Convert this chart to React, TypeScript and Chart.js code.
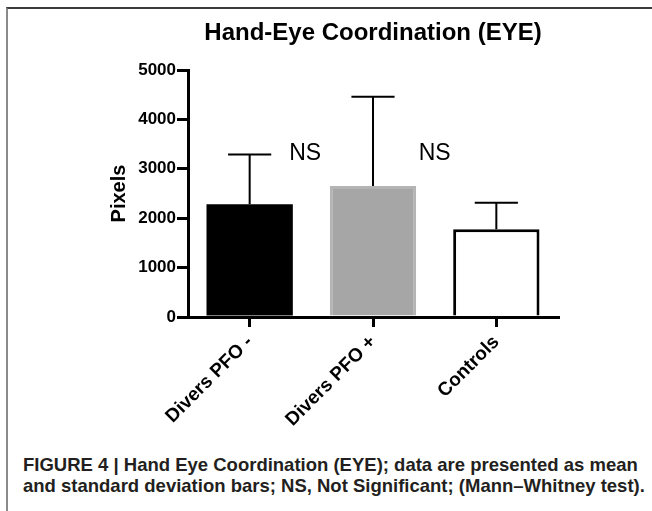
import React, { useEffect, useRef } from "react";
import { Chart, registerables } from "chart.js";
Chart.register(...registerables);

const categories = ["Divers PFO -", "Divers PFO +", "Controls"];
const means = [2280, 2650, 1775];
const sds = [1010, 1810, 540];
const barColors = ["#000000", "#a6a6a6", "#ffffff"];
const borderColors = ["#000000", "#b4b4b4", "#000000"];
const borderWidths = [0, 3, 3];
const yTicks = [0, 1000, 2000, 3000, 4000, 5000];
const nsLabels = ["NS", "NS"];
const nsX = [0.45, 1.5];
const nsY = [3300, 3300];
const titleText = "Hand-Eye Coordination (EYE)";
const yTitle = "Pixels";
const captionLines = [
  "FIGURE 4 | Hand Eye Coordination (EYE); data are presented as mean",
  "and standard deviation bars; NS, Not Significant; (Mann\u2013Whitney test).",
];

const FAMILY = '"Liberation Sans", Arial, Helvetica, sans-serif';

const errorBarPlugin = {
  id: "errorBars",
  afterDatasetsDraw(chart: any) {
    const meta = chart.getDatasetMeta(0);
    const ys = chart.scales.y;
    const xs = chart.scales.x;
    const ctx = chart.ctx;
    ctx.save();
    ctx.strokeStyle = "#000";
    ctx.lineWidth = 2;
    meta.data.forEach((bar: any, i: number) => {
      const x = bar.x;
      const w = bar.width;
      const yTop = ys.getPixelForValue(means[i] + sds[i]);
      const yBase = ys.getPixelForValue(means[i]);
      ctx.beginPath();
      ctx.moveTo(x, yBase);
      ctx.lineTo(x, yTop);
      ctx.moveTo(x - w / 4, yTop);
      ctx.lineTo(x + w / 4, yTop);
      ctx.stroke();
    });
    ctx.fillStyle = "#000";
    ctx.font = "23px " + FAMILY;
    ctx.textAlign = "center";
    ctx.textBaseline = "middle";
    nsLabels.forEach((t, i) => {
      ctx.fillText(t, xs.getPixelForValue(nsX[i]), ys.getPixelForValue(nsY[i]));
    });
    ctx.restore();
  },
};

export default function App() {
  const ref = useRef<HTMLCanvasElement>(null);
  useEffect(() => {
    const chart = new Chart(ref.current!, {
      type: "bar",
      data: {
        labels: categories,
        datasets: [
          {
            data: means,
            backgroundColor: barColors,
            borderColor: borderColors,
            borderWidth: borderWidths,
            barPercentage: 0.7,
            categoryPercentage: 1.0,
          },
        ],
      },
      options: {
        responsive: false,
        animation: false,
        layout: { padding: { left: 90, right: 94, top: 0, bottom: 0 } },
        plugins: {
          legend: { display: false },
          tooltip: { enabled: false },
          title: {
            display: true,
            text: titleText,
            fullSize: false,
            color: "#000",
            font: { family: FAMILY, size: 24, weight: "bold" },
            padding: { top: 10.6, bottom: 22.6 },
          },
        },
        scales: {
          x: {
            type: "category",
            offset: true,
            afterFit: (s: any) => {
              s.height = 131;
            },
            grid: {
              display: true,
              offset: false,
              drawOnChartArea: false,
              drawTicks: true,
              tickLength: 10,
              lineWidth: 3,
              color: "#000",
            },
            border: { display: true, color: "#000", width: 3 },
            ticks: {
              color: "#000",
              font: { family: FAMILY, size: 19, weight: "bold" },
              maxRotation: 45,
              minRotation: 45,
              padding: 4,
              autoSkip: false,
            },
          },
          y: {
            min: 0,
            max: 5000,
            afterFit: (s: any) => {
              s.width = 90;
            },
            afterBuildTicks: (s: any) => {
              s.ticks = yTicks.map((v) => ({ value: v }));
            },
            grid: {
              display: true,
              drawOnChartArea: false,
              drawTicks: true,
              tickLength: 11,
              lineWidth: 3,
              color: "#000",
            },
            border: { display: true, color: "#000", width: 3 },
            ticks: {
              color: "#000",
              font: { family: FAMILY, size: 17, weight: "bold" },
              padding: 1,
              callback: (v: any) => String(v),
            },
            title: {
              display: true,
              text: yTitle,
              color: "#000",
              font: { family: FAMILY, size: 20, weight: "bold" },
              padding: { top: 9, bottom: 0 },
            },
          },
        },
      },
      plugins: [errorBarPlugin],
    } as any);
    return () => chart.destroy();
  }, []);

  return (
    <div
      style={{
        position: "fixed",
        left: 0,
        top: 0,
        width: 652,
        height: 511,
        background: "#fff",
        overflow: "hidden",
      }}
    >
      <div
        style={{
          position: "absolute",
          left: 6,
          top: 7,
          width: 700,
          height: 600,
          borderTop: "2px solid #3c3c3c",
          borderLeft: "2px solid #8a8a8a",
        }}
      />
      <canvas
        ref={ref}
        width={644}
        height={440}
        style={{ position: "absolute", left: 8, top: 8, width: 644, height: 440 }}
      />
      <div
        style={{
          position: "absolute",
          left: 23,
          top: 454,
          fontFamily: FAMILY,
          fontWeight: "bold",
          fontSize: 18.5,
          lineHeight: "21px",
          color: "#231f20",
          whiteSpace: "nowrap",
        }}
      >
        {captionLines[0]}
        <br />
        {captionLines[1]}
      </div>
    </div>
  );
}
